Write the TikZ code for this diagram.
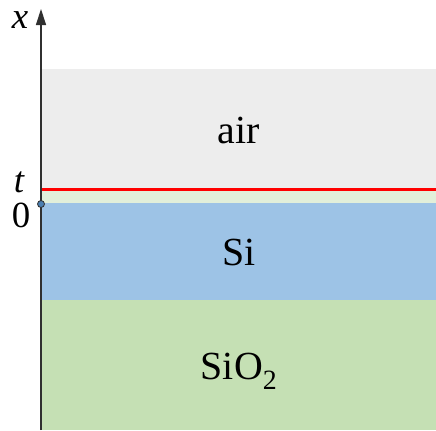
\documentclass[tikz,border=0pt]{standalone}
\usepackage{fontspec}
\setmainfont{Liberation Serif}
\usetikzlibrary{arrows.meta}
\definecolor{airc}{HTML}{EDEDED}
\definecolor{thinc}{HTML}{E2EFDA}
\definecolor{sic}{HTML}{9DC3E6}
\definecolor{oxc}{HTML}{C5E0B4}
\definecolor{axc}{HTML}{303030}
\definecolor{dotc}{HTML}{4A7EB0}
\begin{document}
\begin{tikzpicture}[x=1bp,y=-1bp,
  layer/.style={draw=none,inner sep=0pt,outer sep=0pt},
  lbl/.style={font=\fontsize{40}{44}\selectfont,inner sep=0pt},
  axlbl/.style={font=\fontsize{37}{42}\selectfont,inner sep=0pt}]
\useasboundingbox (0,0) rectangle (436,430);
\fill[airc] (41,69) rectangle (436,188);
\fill[thinc] (41,190) rectangle (436,203);
\fill[sic] (41,203) rectangle (436,300);
\fill[oxc] (41,300) rectangle (436,430);
\coordinate (rl) at (41,189);
\coordinate (rr) at (436,189);
\draw[red,line width=3bp] (rl) -- (rr);
\coordinate (ab) at (41,430);
\coordinate (at) at (41,9);
\draw[axc,line width=1.3bp,-{Triangle[length=16bp,width=10bp]}] (ab) -- (at);
\node[circle,fill=dotc,draw=axc,line width=0.8bp,minimum size=7bp,inner sep=0pt] (dot) at (41,204) {};
\node[axlbl] (xl) at (20,20) {\itshape x};
\node[axlbl] (tl) at (19,182) {\itshape t};
\node[axlbl] (zl) at (21,215) {0};
\node[lbl] (air) at (239,130) {air};
\node[lbl] (si) at (239,252) {Si};
\node[lbl] (sio) at (239,371) {SiO\textsubscript{2}};
\end{tikzpicture}
\end{document}
